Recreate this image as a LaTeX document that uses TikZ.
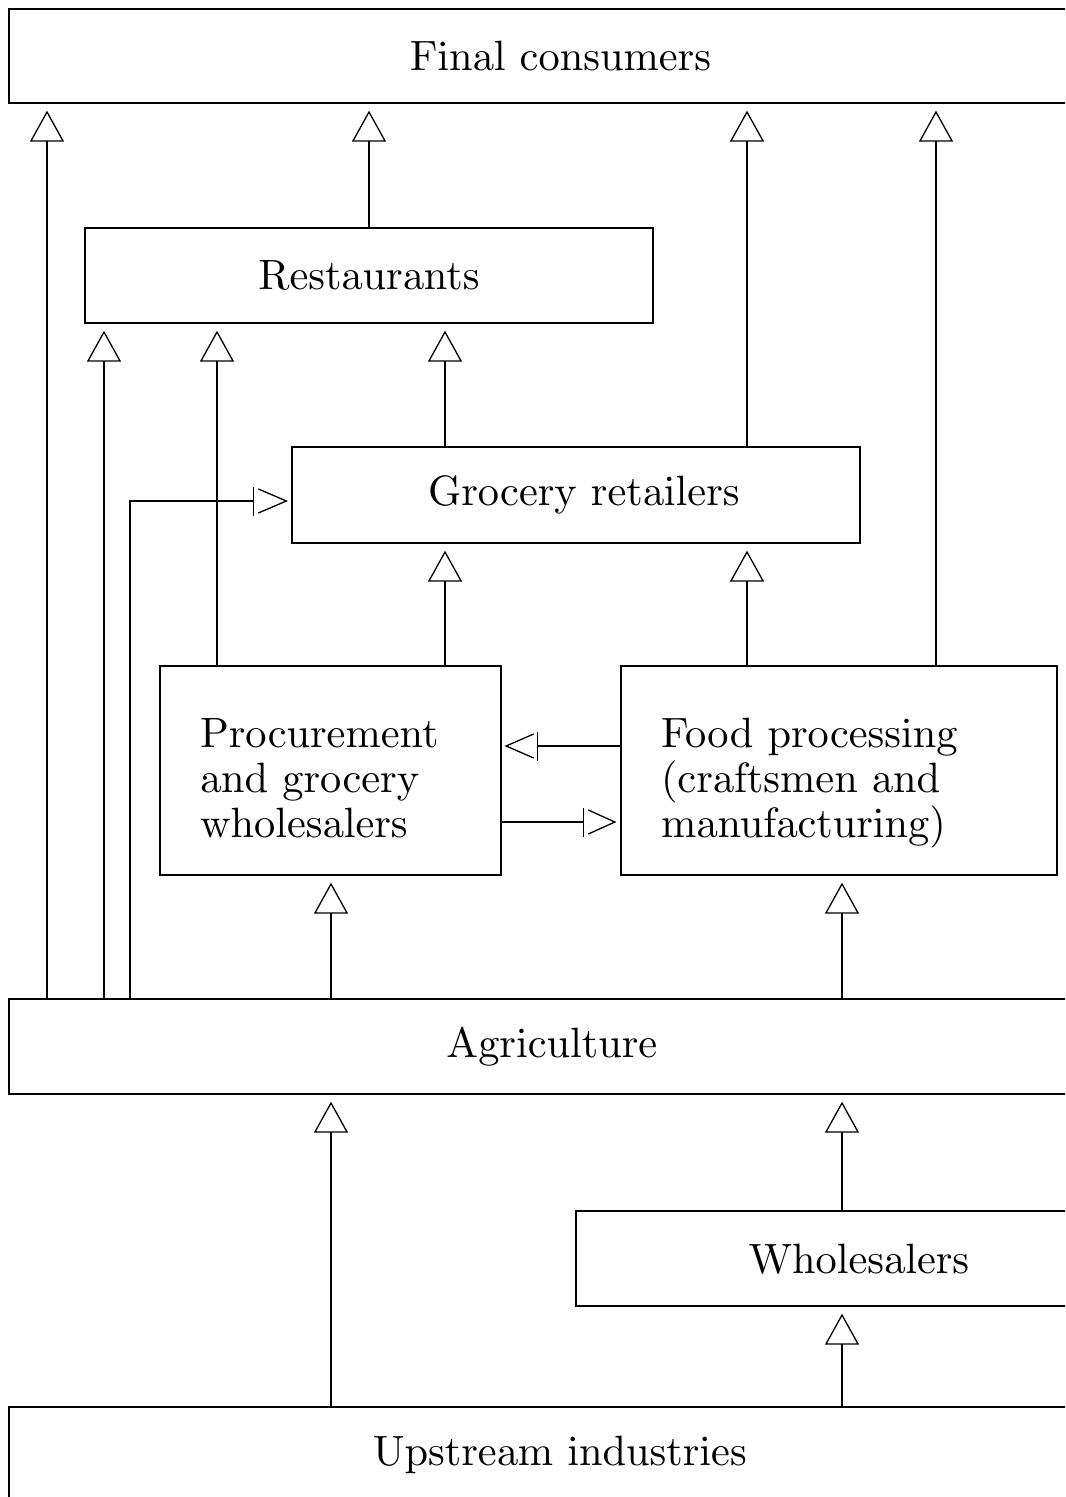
\documentclass[tikz,border=0pt]{standalone}
\usetikzlibrary{arrows.meta,calc}
\font\lblfont=cmr10 at 21.2pt
\begin{document}
\begin{tikzpicture}[x=0.5pt,y=-0.5pt, line width=0.65pt,
  box/.style={draw, inner sep=0pt, font={\lblfont\baselineskip=22.5pt}},
  arr/.style={-{Triangle[open,length=15.5pt,width=17pt]}, shorten >=3.5pt},
  bararr/.style={-{Bar[width=14.5pt]}},
  barb/.style={line join=miter}]
\useasboundingbox (0,0) rectangle (1065,1497);
\clip (0,0) rectangle (1065,1497);
\node[box, minimum width=551.5pt, minimum height=47pt] (fc) at (560.5,56) {Final consumers};
\node[box, minimum width=284pt, minimum height=47.5pt] (rest) at (369,275.5) {Restaurants};
\node[box, minimum width=284pt, minimum height=48pt] (groc) at (576,495) {\hspace*{8pt}Grocery retailers};
\node[box, minimum width=170.5pt, minimum height=104.5pt, align=left, text width=130.5pt] (proc) at (330.5,770.5) {\rule{0pt}{27.5pt}Procurement\\and grocery\\wholesalers\rule[-6pt]{0pt}{6pt}};
\node[box, minimum width=218pt, minimum height=104.5pt, align=left, text width=178pt] (food) at (839,770.5) {\rule{0pt}{27.5pt}Food processing\\(craftsmen and\\manufacturing)\rule[-6pt]{0pt}{6pt}};
\node[box, minimum width=543pt, minimum height=47.5pt] (agri) at (552,1046.5) {Agriculture};
\node[box, minimum width=283pt, minimum height=47.5pt] (whol) at (859,1258.5) {Wholesalers};
\node[box, minimum width=551pt, minimum height=47.5pt] (up) at (560,1454.5) {Upstream industries};
\foreach \v in {47,104,130,217,331,445,747,842,936}{\coordinate (x\v) at (\v,0);}
\coordinate (y746) at (0,746);
\coordinate (y822) at (0,822);
\coordinate (gE) at ($(groc.west)+(0,6)$);
\coordinate (pE) at (proc.east |- y746);
\coordinate (fE) at (food.west |- y822);
\draw[arr] (agri.north -| x47) -- (fc.south -| x47);
\draw[arr] (rest.north) -- (fc.south -| rest.north);
\draw[arr] (groc.north -| x747) -- (fc.south -| x747);
\draw[arr] (food.north -| x936) -- (fc.south -| x936);
\draw[arr] (agri.north -| x104) -- (rest.south -| x104);
\draw[arr] (proc.north -| x217) -- (rest.south -| x217);
\draw[arr] (groc.north -| x445) -- (rest.south -| x445);
% agriculture -> grocery retailers
\draw[bararr] (agri.north -| x130) |- ($(gE)+(-18.5pt,0)$);
\draw[barb] ($(gE)+(-16.5pt,6pt)$) -- ($(gE)+(-2.5pt,0)$) -- ($(gE)+(-16.5pt,-6pt)$);
\draw[arr] (proc.north -| x445) -- (groc.south -| x445);
\draw[arr] (food.north -| x747) -- (groc.south -| x747);
% food processing -> procurement
\draw[bararr] (food.west |- pE) -- ($(pE)+(17.5pt,0)$);
\draw[barb] ($(pE)+(16pt,6pt)$) -- ($(pE)+(2.25pt,0)$) -- ($(pE)+(16pt,-6pt)$);
% procurement -> food processing
\draw[bararr] (proc.east |- fE) -- ($(fE)+(-18pt,0)$);
\draw[barb] ($(fE)+(-16pt,6pt)$) -- ($(fE)+(-2.75pt,0)$) -- ($(fE)+(-16pt,-6pt)$);
\draw[arr] (agri.north -| x331) -- (proc.south -| x331);
\draw[arr] (agri.north -| x842) -- (food.south -| x842);
\draw[arr] (up.north -| x331) -- (agri.south -| x331);
\draw[arr] (whol.north -| x842) -- (agri.south -| x842);
\draw[arr] (up.north -| x842) -- (whol.south -| x842);
\end{tikzpicture}
\end{document}
